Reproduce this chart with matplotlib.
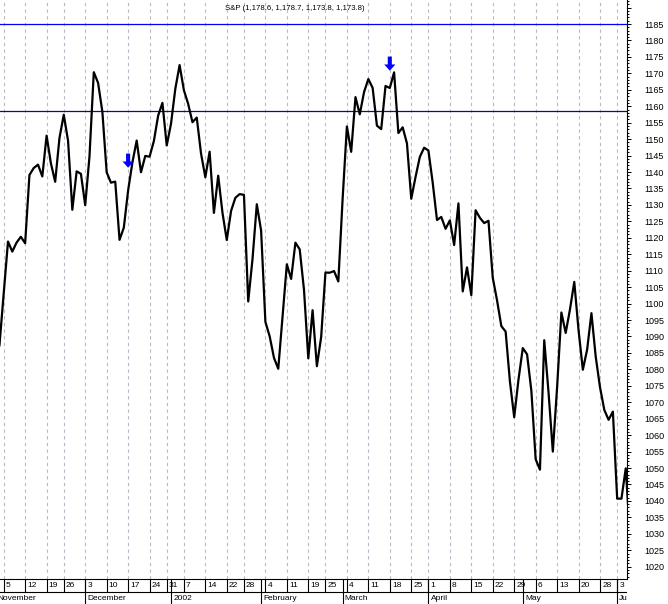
import numpy as np
import matplotlib.pyplot as plt
from matplotlib.ticker import MultipleLocator

plt.rcParams['font.family'] = ['Liberation Sans', 'DejaVu Sans']

# S&P daily closes, Nov 2001 - Jun 2002
dates = [
    '2001-11-01', '2001-11-02', '2001-11-05', '2001-11-06', '2001-11-07', '2001-11-08', '2001-11-09',
    '2001-11-12', '2001-11-13', '2001-11-14', '2001-11-15', '2001-11-16', '2001-11-19', '2001-11-20',
    '2001-11-21', '2001-11-23', '2001-11-26', '2001-11-27', '2001-11-28', '2001-11-29', '2001-11-30',
    '2001-12-03', '2001-12-04', '2001-12-05', '2001-12-06', '2001-12-07', '2001-12-10', '2001-12-11',
    '2001-12-12', '2001-12-13', '2001-12-14', '2001-12-17', '2001-12-18', '2001-12-19', '2001-12-20',
    '2001-12-21', '2001-12-24', '2001-12-26', '2001-12-27', '2001-12-28', '2001-12-31',
    '2002-01-02', '2002-01-03', '2002-01-04', '2002-01-07', '2002-01-08', '2002-01-09', '2002-01-10',
    '2002-01-11', '2002-01-14', '2002-01-15', '2002-01-16', '2002-01-17', '2002-01-18', '2002-01-22',
    '2002-01-23', '2002-01-24', '2002-01-25', '2002-01-28', '2002-01-29', '2002-01-30', '2002-01-31',
    '2002-02-01', '2002-02-04', '2002-02-05', '2002-02-06', '2002-02-07', '2002-02-08', '2002-02-11',
    '2002-02-12', '2002-02-13', '2002-02-14', '2002-02-15', '2002-02-19', '2002-02-20', '2002-02-21',
    '2002-02-22', '2002-02-25', '2002-02-26', '2002-02-27', '2002-02-28',
    '2002-03-01', '2002-03-04', '2002-03-05', '2002-03-06', '2002-03-07', '2002-03-08', '2002-03-11',
    '2002-03-12', '2002-03-13', '2002-03-14', '2002-03-15', '2002-03-18', '2002-03-19', '2002-03-20',
    '2002-03-21', '2002-03-22', '2002-03-25', '2002-03-26', '2002-03-27', '2002-03-28',
    '2002-04-01', '2002-04-02', '2002-04-03', '2002-04-04', '2002-04-05', '2002-04-08', '2002-04-09',
    '2002-04-10', '2002-04-11', '2002-04-12', '2002-04-15', '2002-04-16', '2002-04-17', '2002-04-18',
    '2002-04-19', '2002-04-22', '2002-04-23', '2002-04-24', '2002-04-25', '2002-04-26', '2002-04-29',
    '2002-04-30',
    '2002-05-01', '2002-05-02', '2002-05-03', '2002-05-06', '2002-05-07', '2002-05-08', '2002-05-09',
    '2002-05-10', '2002-05-13', '2002-05-14', '2002-05-15', '2002-05-16', '2002-05-17', '2002-05-20',
    '2002-05-21', '2002-05-22', '2002-05-23', '2002-05-24', '2002-05-28', '2002-05-29', '2002-05-30',
    '2002-05-31',
    '2002-06-03', '2002-06-04', '2002-06-05', '2002-06-06',
]
closes = [
    1084.10, 1087.20, 1102.84, 1118.86, 1115.80, 1118.54, 1120.31,
    1118.33, 1139.09, 1141.21, 1142.24, 1138.65, 1151.06, 1142.66,
    1137.03, 1150.34, 1157.42, 1149.50, 1128.52, 1140.20, 1139.45,
    1129.90, 1144.80, 1170.35, 1167.10, 1158.31, 1139.93, 1136.76,
    1137.07, 1119.38, 1123.09, 1134.36, 1142.92, 1149.56, 1139.93,
    1144.89, 1144.65, 1149.37, 1157.13, 1161.02, 1148.08,
    1154.67, 1165.27, 1172.51, 1164.89, 1160.71, 1155.14, 1156.55,
    1145.60, 1138.41, 1146.19, 1127.57, 1138.88, 1127.58, 1119.31,
    1128.18, 1132.15, 1133.28, 1133.06, 1100.64, 1113.57, 1130.20,
    1122.20, 1094.44, 1090.02, 1083.51, 1080.17, 1096.22, 1111.94,
    1107.50, 1118.51, 1116.48, 1104.18, 1083.34, 1097.98, 1080.95,
    1089.84, 1109.43, 1109.38, 1109.89, 1106.73,
    1131.78, 1153.84, 1146.14, 1162.77, 1157.54, 1164.31, 1168.26,
    1165.58, 1154.09, 1153.04, 1166.16, 1165.55, 1170.29, 1151.85,
    1153.59, 1148.70, 1131.87, 1138.49, 1144.58, 1147.39,
    1146.54, 1136.76, 1125.40, 1126.34, 1122.73, 1125.29, 1117.80,
    1130.47, 1103.69, 1111.01, 1102.55, 1128.37, 1126.07, 1124.47,
    1125.17, 1107.83, 1100.96, 1093.14, 1091.48, 1076.32, 1065.45,
    1076.92,
    1086.46, 1084.56, 1073.43, 1052.67, 1049.49, 1088.85, 1073.01,
    1054.99, 1074.56, 1097.28, 1091.07, 1098.23, 1106.59, 1091.88,
    1079.88, 1086.02, 1097.08, 1083.82, 1074.55, 1067.66, 1064.66,
    1067.14,
    1040.68, 1040.69, 1049.90, 1029.15,
]

week_ticks = ['2001-11-05', '2001-11-12', '2001-11-19', '2001-11-26', '2001-12-03', '2001-12-10',
              '2001-12-17', '2001-12-24', '2001-12-31', '2002-01-07', '2002-01-14', '2002-01-22',
              '2002-01-28', '2002-02-04', '2002-02-11', '2002-02-19', '2002-02-25', '2002-03-04',
              '2002-03-11', '2002-03-18', '2002-03-25', '2002-04-01', '2002-04-08', '2002-04-15',
              '2002-04-22', '2002-04-29', '2002-05-06', '2002-05-13', '2002-05-20', '2002-05-28',
              '2002-06-03']
month_starts = ['2001-11-01', '2001-12-03', '2002-01-02', '2002-02-01', '2002-03-01',
                '2002-04-01', '2002-05-01', '2002-06-03']
month_labels = ['November', 'December', '2002', 'February', 'March', 'April', 'May', 'June']

arrow_dates = ['2001-12-17', '2002-03-18']
arrow_tips = [1141.3, 1170.8]

upper_level = 1185.0
lower_level = 1158.5
title = 'S&P (1,178.6, 1,178.7, 1,173.8, 1,173.8)'

# trading-day index, Nov 5 = 0
origin = dates.index('2001-11-05')
xpos = {d: i - origin for i, d in enumerate(dates)}
xs = [xpos[d] for d in dates]

W, H = 668, 604
fig = plt.figure(figsize=(W / 100, H / 100), dpi=100)
ax = fig.add_axes([0, 25 / H, 627 / W, 579 / H])
strip = fig.add_axes([0, 0, 627 / W, 25 / H])

px_day = 4.29
xlim = (-3.7 / px_day, (627 - 3.7) / px_day)
ax.set_xlim(xlim)
ax.set_ylim(1016.25, 1192.3)

for d in week_ticks:
    ax.axvline(xpos[d], color='#c0b6c8', lw=0.8, ls=(0, (3, 3)), zorder=1)

ax.axhline(upper_level, color='#0000ff', lw=0.9, zorder=2)
ax.axhline(lower_level, color='#10106a', lw=0.9, zorder=2)

ax.plot(xs, closes, color='black', lw=1.6, zorder=3)

for d, tip in zip(arrow_dates, arrow_tips):
    ax.arrow(xpos[d], tip + 4.3, 0, -4.3, width=0.95, head_width=2.6, head_length=1.9,
             length_includes_head=True, color='#0000ff', lw=0, zorder=4)

ax.text(295 / 627, 1 - 8 / 579, title, transform=ax.transAxes, ha='center', va='center',
        fontsize=5.6)

ax.set_xticks([])
ax.yaxis.tick_right()
yt = np.arange(1020, 1191, 5)
ax.set_yticks(yt)
ax.set_yticklabels([str(v) if v <= 1185 else '' for v in yt])
ax.yaxis.set_minor_locator(MultipleLocator(1))
ax.tick_params(axis='y', which='major', length=3, width=0.7, pad=9.5, labelsize=6.5)
ax.tick_params(axis='y', which='minor', length=1.5, width=0.7)
for s in ['left', 'top']:
    ax.spines[s].set_visible(False)
for s in ['right', 'bottom']:
    ax.spines[s].set_linewidth(0.8)

# date strip under the chart
strip.set_xlim(xlim)
strip.set_ylim(0, 25)
strip.axis('off')
strip.axhline(12.5, color='black', lw=0.8)
for d in week_ticks:
    x = xpos[d]
    strip.vlines(x, 12.5, 25, color='black', lw=0.8)
    strip.text(x + 0.5, 18.5, str(int(d[-2:])), ha='left', va='center', fontsize=6, clip_on=True)
for d, lab in zip(month_starts, month_labels):
    x = xpos[d]
    strip.vlines(x, 0, 25, color='black', lw=0.8)
    strip.text(x + 0.5, 6, lab, ha='left', va='center', fontsize=6, clip_on=True)

fig.savefig('out.png', dpi=100)
